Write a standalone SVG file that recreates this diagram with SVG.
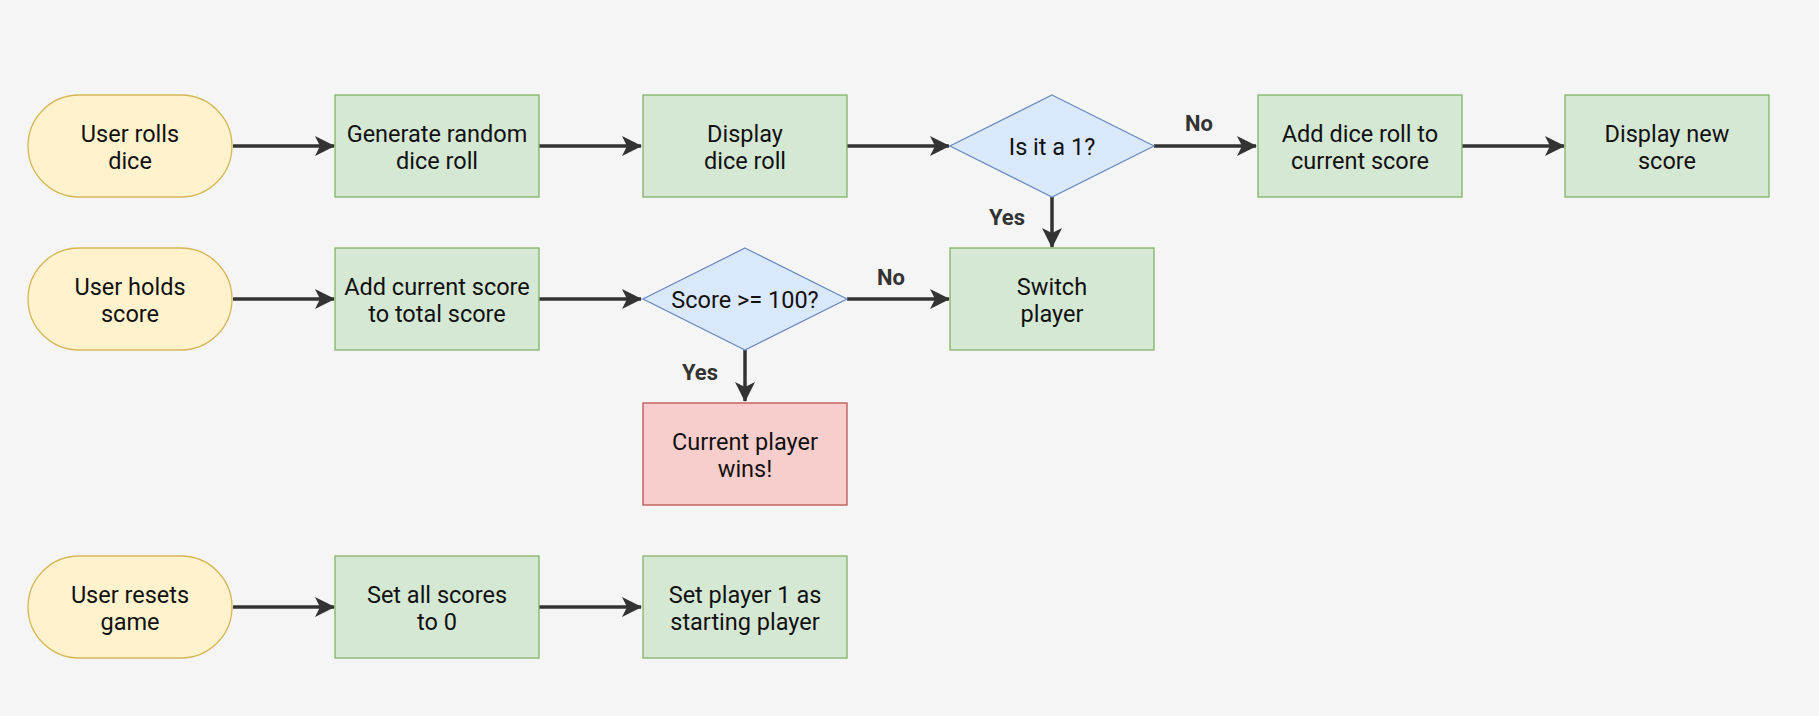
<svg xmlns="http://www.w3.org/2000/svg" width="1819" height="716" viewBox="0 0 1819 716">
<defs>
<style>
.t{font-family:Roboto,"Liberation Sans",sans-serif;font-size:23.5px;fill:#111;text-anchor:middle}
.l{font-family:Roboto,"Liberation Sans",sans-serif;font-size:22px;font-weight:bold;fill:#333;text-anchor:middle}
.term{fill:#fff2cc;stroke:#d6b656;stroke-width:1.3}
.proc{fill:#d5e8d4;stroke:#82b366;stroke-width:1.3}
.dec{fill:#dae8fc;stroke:#6c8ebf;stroke-width:1.3}
.end{fill:#f8cecc;stroke:#b85450;stroke-width:1.3}
.c{stroke:#333;stroke-width:3.5;fill:none;marker-end:url(#ah)}
</style>
<marker id="ah" markerWidth="20" markerHeight="20" viewBox="0 0 20 20" refX="19" refY="10" orient="auto" markerUnits="userSpaceOnUse">
<path d="M0,0 L20,10 L0,20 L5,10 Z" fill="#333"/>
</marker>
</defs>
<rect width="1819" height="716" fill="#f5f5f5"/>
<g id="connectors">
<path class="c" d="M233,146 H334"/>
<path class="c" d="M539,146 H641"/>
<path class="c" d="M847,146 H949"/>
<path class="c" d="M1154,146 H1256"/>
<path class="c" d="M1462,146 H1564"/>
<path class="c" d="M1052,197 V247"/>
<path class="c" d="M233,299 H334"/>
<path class="c" d="M539,299 H641"/>
<path class="c" d="M847,299 H949"/>
<path class="c" d="M745,350 V401"/>
<path class="c" d="M233,607 H334"/>
<path class="c" d="M539,607 H641"/>
<text class="l" x="1199" y="131">No</text>
<text class="l" x="1007" y="225">Yes</text>
<text class="l" x="891" y="285">No</text>
<text class="l" x="700" y="380">Yes</text>
</g>
<g id="n1"><rect class="term" x="28" y="95" width="204" height="102" rx="51"/><text class="t" x="130" y="142">User rolls</text><text class="t" x="130" y="169">dice</text></g>
<g id="n2"><rect class="proc" x="335" y="95" width="204" height="102"/><text class="t" x="437" y="142">Generate random</text><text class="t" x="437" y="169">dice roll</text></g>
<g id="n3"><rect class="proc" x="643" y="95" width="204" height="102"/><text class="t" x="745" y="142">Display</text><text class="t" x="745" y="169">dice roll</text></g>
<g id="n4"><path class="dec" d="M1052,95 L1154,146 L1052,197 L950,146 Z"/><text class="t" x="1052" y="155">Is it a 1?</text></g>
<g id="n5"><rect class="proc" x="1258" y="95" width="204" height="102"/><text class="t" x="1360" y="142">Add dice roll to</text><text class="t" x="1360" y="169">current score</text></g>
<g id="n6"><rect class="proc" x="1565" y="95" width="204" height="102"/><text class="t" x="1667" y="142">Display new</text><text class="t" x="1667" y="169">score</text></g>
<g id="n7"><rect class="term" x="28" y="248" width="204" height="102" rx="51"/><text class="t" x="130" y="295">User holds</text><text class="t" x="130" y="322">score</text></g>
<g id="n8"><rect class="proc" x="335" y="248" width="204" height="102"/><text class="t" x="437" y="295">Add current score</text><text class="t" x="437" y="322">to total score</text></g>
<g id="n9"><path class="dec" d="M745,248 L847,299 L745,350 L643,299 Z"/><text class="t" x="745" y="308">Score &gt;= 100?</text></g>
<g id="n10"><rect class="proc" x="950" y="248" width="204" height="102"/><text class="t" x="1052" y="295">Switch</text><text class="t" x="1052" y="322">player</text></g>
<g id="n11"><rect class="end" x="643" y="403" width="204" height="102"/><text class="t" x="745" y="450">Current player</text><text class="t" x="745" y="477">wins!</text></g>
<g id="n12"><rect class="term" x="28" y="556" width="204" height="102" rx="51"/><text class="t" x="130" y="603">User resets</text><text class="t" x="130" y="630">game</text></g>
<g id="n13"><rect class="proc" x="335" y="556" width="204" height="102"/><text class="t" x="437" y="603">Set all scores</text><text class="t" x="437" y="630">to 0</text></g>
<g id="n14"><rect class="proc" x="643" y="556" width="204" height="102"/><text class="t" x="745" y="603">Set player 1 as</text><text class="t" x="745" y="630">starting player</text></g>
</svg>
